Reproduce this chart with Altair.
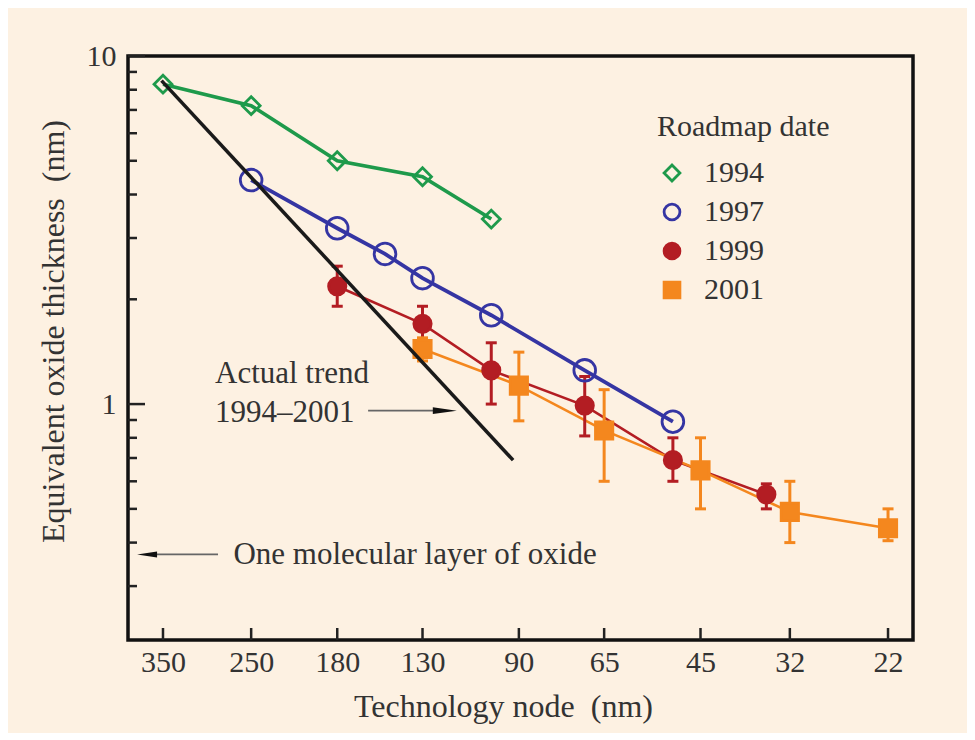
import altair as alt
import pandas as pd

# ---------------- data ----------------
years = ["1994", "1997", "1999", "2001"]
line_colors = ["#1e9a4b", "#3535a3", "#b31d23", "#f4871e"]
marker_fills = ["transparent", "transparent", "#b31d23", "#f4871e"]
marker_shapes = ["diamond", "circle", "circle", "square"]
marker_sizes = [320, 470, 300, 300]
line_widths = [3.6, 3.8, 2.6, 2.6]

node_1994 = [350, 250, 180, 130, 100]
eot_1994 = [8.3, 7.2, 5.0, 4.5, 3.4]

node_1997 = [250, 180, 150, 130, 100, 70, 50]
eot_1997 = [4.4, 3.2, 2.7, 2.3, 1.8, 1.25, 0.89]

node_1999 = [180, 130, 100, 70, 50, 35]
eot_1999 = [2.18, 1.70, 1.25, 0.99, 0.69, 0.55]
low_1999 = [1.91, 1.50, 1.00, 0.81, 0.60, 0.50]
high_1999 = [2.49, 1.91, 1.50, 1.20, 0.80, 0.59]

node_2001 = [130, 90, 65, 45, 32, 22]
eot_2001 = [1.44, 1.13, 0.84, 0.645, 0.49, 0.44]
low_2001 = [1.33, 0.895, 0.60, 0.50, 0.40, 0.405]
high_2001 = [1.55, 1.41, 1.10, 0.80, 0.60, 0.50]

trend_node = [352, 92]
trend_eot = [8.5, 0.69]

x_tick_values = [350, 250, 180, 130, 90, 65, 45, 32, 22]
y_major_ticks = [1, 10]
y_minor_ticks = [0.3, 0.4, 0.5, 0.6, 0.7, 0.8, 0.9, 2, 3, 4, 5, 6, 7, 8, 9]

trend_text = ["Actual trend", "1994\u20132001"]
trend_text_x = [287, 287]
trend_text_y = [1.149, 0.888]
trend_arrow = {"x": 160, "x2": 119.4, "y": 0.957}

layer_text = ["One molecular layer of oxide"]
layer_text_x = [267.5]
layer_text_y = [0.347]
layer_arrow = {"x": 283.7, "x2": 371.9, "y": 0.370}

# ---------------- tables ----------------
series_nodes = {"1994": node_1994, "1997": node_1997, "1999": node_1999, "2001": node_2001}
series_vals = {"1994": eot_1994, "1997": eot_1997, "1999": eot_1999, "2001": eot_2001}
err_lo = {"1999": low_1999, "2001": low_2001}
err_hi = {"1999": high_1999, "2001": high_2001}

W, H = 785, 584
FONT = "Liberation Serif"
TXT = "#333333"

xs = alt.Scale(type="log", domain=[20, 400], reverse=True, nice=False)
ys = alt.Scale(type="log", domain=[0.21, 10], nice=False)

x_axis = alt.Axis(values=x_tick_values, format="d", ticks=False, domain=False, grid=False,
                  labelFont=FONT, labelFontSize=30, labelColor=TXT, labelPadding=7,
                  title="Technology node\u00a0 (nm)", titleFont=FONT, titleFontSize=32,
                  titleFontWeight="normal", titleColor=TXT, titlePadding=14, titleX=375,
                  labelFlush=False)
y_axis = alt.Axis(values=y_major_ticks, format="~g", ticks=False, domain=False, grid=False,
                  labelFont=FONT, labelFontSize=30, labelColor=TXT, labelPadding=12,
                  title="Equivalent oxide thickness\u00a0 (nm)", titleFont=FONT, titleFontSize=32,
                  titleFontWeight="normal", titleColor=TXT, titlePadding=16, titleY=275,
                  labelFlush=False)

X = alt.X("x:Q", scale=xs, axis=x_axis)
Y = alt.Y("y:Q", scale=ys, axis=y_axis)

legend = alt.Legend(title="Roadmap date", orient="none", legendX=529, legendY=56,
                    titleFont=FONT, titleFontSize=30, titleFontWeight="normal", titleColor=TXT,
                    labelFont=FONT, labelFontSize=30, labelColor=TXT, titlePadding=16,
                    rowPadding=9, symbolSize=250, symbolStrokeWidth=2.8, labelOffset=17,
                    padding=0)

line_layers, err_layers, point_layers = [], [], []
for yr, col, fil, shp, sz, lw in zip(years, line_colors, marker_fills, marker_shapes,
                                     marker_sizes, line_widths):
    df = pd.DataFrame({"x": series_nodes[yr], "y": series_vals[yr], "year": yr})
    line_layers.append(alt.Chart(df).mark_line(color=col, strokeWidth=lw).encode(x=X, y=Y))
    if yr in err_lo:
        edf = pd.DataFrame({"x": series_nodes[yr], "lo": err_lo[yr], "hi": err_hi[yr]})
        err_layers.append(alt.Chart(edf).mark_rule(color=col, strokeWidth=3).encode(
            x=X, y=alt.Y("lo:Q", scale=ys, axis=y_axis), y2="hi:Q"))
        cdf = pd.DataFrame({"x": series_nodes[yr] * 2, "y": err_lo[yr] + err_hi[yr]})
        err_layers.append(alt.Chart(cdf).mark_tick(
            orient="horizontal", size=11, thickness=3, color=col, opacity=1).encode(x=X, y=Y))
    point_layers.append(alt.Chart(df).mark_point(
        shape=shp, size=sz, stroke=col, fill=fil, strokeWidth=2.8, opacity=1).encode(x=X, y=Y))

# legend-only layer (no rows drawn: its data is empty, legend comes from explicit scale domains)
legend_df = pd.DataFrame({"x": pd.Series([], dtype=float), "y": pd.Series([], dtype=float),
                          "year": pd.Series([], dtype=str)})
legend_layer = alt.Chart(legend_df).mark_point(strokeWidth=2.8, opacity=1).encode(
    x=X, y=Y,
    stroke=alt.Stroke("year:N", scale=alt.Scale(domain=years, range=line_colors), legend=legend,
                      title="Roadmap date"),
    fill=alt.Fill("year:N", scale=alt.Scale(domain=years, range=marker_fills), legend=legend,
                  title="Roadmap date"),
    shape=alt.Shape("year:N", scale=alt.Scale(domain=years, range=marker_shapes), legend=legend,
                    title="Roadmap date"),
)

trend = alt.Chart(pd.DataFrame({"x": trend_node, "y": trend_eot})).mark_line(
    color="#1a1a1a", strokeWidth=3.5).encode(x=X, y=Y)

ymaj = alt.Chart(pd.DataFrame({"y": y_major_ticks})).mark_rule(color="#222222", strokeWidth=2.5).encode(
    y=Y, x=alt.value(0), x2=alt.value(17))
ymin = alt.Chart(pd.DataFrame({"y": y_minor_ticks})).mark_rule(color="#222222", strokeWidth=2.5).encode(
    y=Y, x=alt.value(0), x2=alt.value(9))
xt = alt.Chart(pd.DataFrame({"x": x_tick_values})).mark_rule(color="#222222", strokeWidth=2.5).encode(
    x=X, y=alt.value(H), y2=alt.value(H - 12))

ttxt = alt.Chart(pd.DataFrame({"x": trend_text_x, "y": trend_text_y, "t": trend_text})).mark_text(
    font=FONT, fontSize=31, color=TXT, align="left", baseline="alphabetic").encode(x=X, y=Y, text="t:N")
ltxt = alt.Chart(pd.DataFrame({"x": layer_text_x, "y": layer_text_y, "t": layer_text})).mark_text(
    font=FONT, fontSize=31, color=TXT, align="left", baseline="alphabetic").encode(x=X, y=Y, text="t:N")

arrow_df = pd.DataFrame([trend_arrow, layer_arrow])
arrow_lines = alt.Chart(arrow_df).mark_rule(color="#666666", strokeWidth=1.8).encode(
    x=X, x2="x2:Q", y=Y)
head_r = alt.Chart(pd.DataFrame({"x": [trend_arrow["x2"]], "y": [trend_arrow["y"]]})).mark_point(
    shape="M-1,-0.28L1,0L-1,0.28Z", size=576, filled=True, color="#111111", opacity=1).encode(x=X, y=Y)
head_l = alt.Chart(pd.DataFrame({"x": [layer_arrow["x2"]], "y": [layer_arrow["y"]]})).mark_point(
    shape="M1,-0.3L-1,0L1,0.3Z", size=400, filled=True, color="#111111", opacity=1).encode(x=X, y=Y)

chart = alt.layer(
    ymin, ymaj, xt, *line_layers, *err_layers, *point_layers, legend_layer, trend,
    arrow_lines, head_r, head_l, ttxt, ltxt,
).properties(
    width=W, height=H,
    padding={"left": 120, "top": 48, "right": 54, "bottom": 93},
    autosize=alt.AutoSizeParams(type="none"),
    background="#fdf1e2",
).configure_view(
    stroke="#111111", strokeWidth=3.5, fill="#fdf1e2",
)

chart.save("out.html", embed_options={"renderer": "svg", "actions": False})
